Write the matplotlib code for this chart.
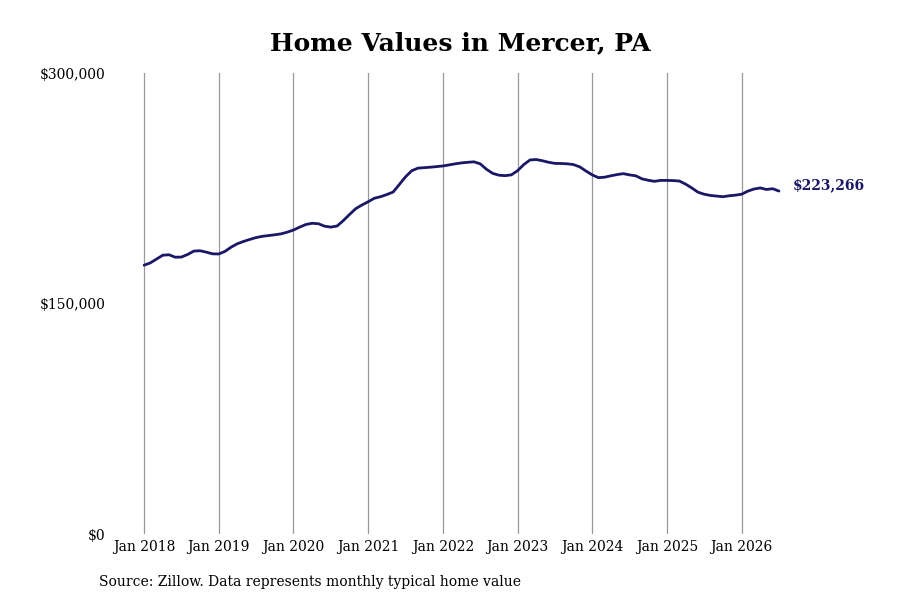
import matplotlib
matplotlib.use("Agg")
import matplotlib.pyplot as plt
import numpy as np

# monthly typical home value, Jan 2018 .. Jul 2026
values = [
    175000, 176500, 179000, 181500, 181800, 180200, 180300, 182000, 184200, 184400, 183500, 182400,
    182300, 184000, 186800, 189000, 190500, 191800, 193000, 193800, 194300, 194800, 195400, 196500,
    197900, 199800, 201500, 202300, 202000, 200400, 199800, 200500, 204000, 208000, 211800, 214200,
    216300, 218600, 219600, 221000, 222600, 227500, 232500, 236500, 238200, 238500, 238800, 239200,
    239600, 240300, 241000, 241600, 242000, 242300, 241000, 237500, 234800, 233600, 233300, 233800,
    236500, 240500, 243500, 243800, 243000, 242000, 241300, 241200, 241000, 240500, 239000, 236300,
    233800, 232000, 232300, 233200, 234000, 234600, 233800, 233200, 231200, 230300, 229600, 230200,
    230200, 230100, 229800, 227800, 225300, 222500, 221200, 220400, 220000, 219600, 220200, 220600,
    221200, 223200, 224600, 225300, 224300, 224800, 223266,
]
years = list(range(2018, 2027))
tick_labels = ["Jan %d" % y for y in years]
y_ticks = [0, 150000, 300000]
y_labels = ["$0", "$150,000", "$300,000"]

months = np.arange(len(values))
navy = "#1a1866"

plt.rcParams["font.family"] = "DejaVu Serif"

fig = plt.figure(figsize=(9, 6), dpi=100)
ax = fig.add_axes([0.12, 0.11, 0.76, 0.768])

ax.plot(months, values, color=navy, linewidth=2.0, solid_capstyle="round")
ax.annotate("$223,266", xy=(months[-1], values[-1]), xytext=(10, 4),
            textcoords="offset points", color=navy, fontsize=10,
            fontweight="bold", va="center", ha="left")

ax.set_xlim(-5.8, 104.1)
ax.set_ylim(0, 300000)
ax.set_xticks([12 * i for i in range(len(years))])
ax.set_xticklabels(tick_labels, fontsize=10)
ax.set_yticks(y_ticks)
ax.set_yticklabels(y_labels, fontsize=10)
ax.tick_params(axis="both", length=0, pad=4)
ax.tick_params(axis="y", pad=2)
ax.grid(axis="x", color="#999999", linewidth=0.9)
ax.set_axisbelow(True)
for s in ax.spines.values():
    s.set_visible(False)

fig.text(0.512, 0.928, "Home Values in Mercer, PA", ha="center", va="center",
         fontsize=18, fontweight="bold")
fig.text(0.11, 0.03, "Source: Zillow. Data represents monthly typical home value",
         ha="left", va="center", fontsize=10)

fig.savefig("out.png", dpi=100)
